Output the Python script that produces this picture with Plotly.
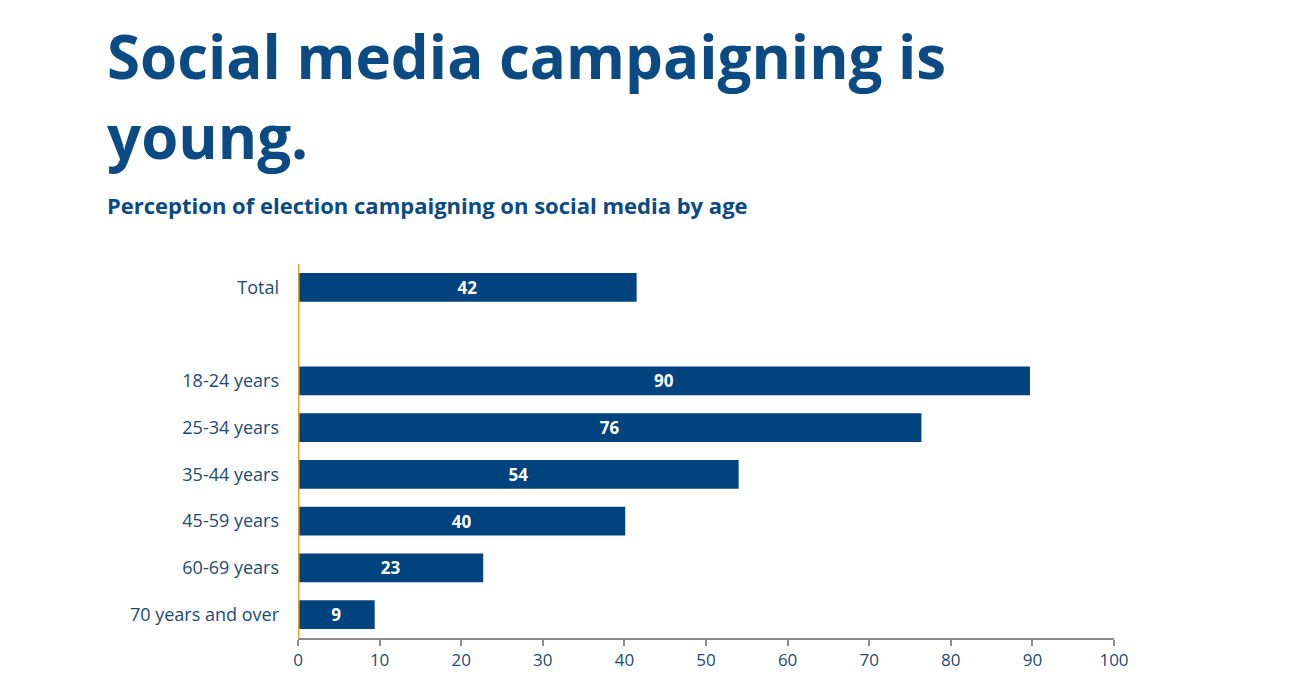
import plotly.graph_objects as go

# values
categories = ["Total", " ", "18-24 years", "25-34 years", "35-44 years",
              "45-59 years", "60-69 years", "70 years and over"]
shares = [41.5, None, 89.7, 76.4, 54.0, 40.1, 22.7, 9.4]
bar_labels = ["42", "", "90", "76", "54", "40", "23", "9"]
x_ticks = [0, 10, 20, 30, 40, 50, 60, 70, 80, 90, 100]

blue = "#00437f"
text_blue = "#1d4a75"
title_blue = "#0b4a82"

# plot area in pixels (page has an 8px body margin)
left, top, plot_h = 290, 256, 374

fig = go.Figure()

fig.add_trace(go.Bar(
    x=shares,
    y=categories,
    orientation="h",
    marker=dict(color=blue, line=dict(width=0)),
    text=bar_labels,
    textposition="inside",
    insidetextanchor="middle",
    textangle=0,
    constraintext="none",
    textfont=dict(family="Open Sans", size=17, color="white", weight="bold"),
    hoverinfo="skip",
))


def title_text(text, px_x, px_y, size):
    # place text by pixel position on the page
    return dict(
        text=text,
        xref="paper", yref="paper",
        x=(px_x - 8 - left) / 816, y=1.0 + (top - (px_y - 8)) / plot_h,
        xanchor="left", yanchor="top",
        align="left", showarrow=False,
        font=dict(family="Open Sans", size=size, color=title_blue, weight="bold"),
    )


fig.update_layout(
    width=1300,
    height=700,
    margin=dict(l=left, r=1300 - left - 816, t=top, b=700 - top - plot_h),
    paper_bgcolor="white",
    plot_bgcolor="white",
    bargap=0.38,
    showlegend=False,
    font=dict(family="Open Sans", color=text_blue),
    xaxis=dict(
        range=[0, 100],
        tickvals=x_ticks,
        showgrid=False,
        zeroline=False,
        showline=True,
        linecolor="#8c8c8c",
        linewidth=2,
        ticks="outside",
        ticklen=6,
        tickwidth=2,
        tickcolor="#8c8c8c",
        tickfont=dict(size=17, color=text_blue),
    ),
    yaxis=dict(
        categoryorder="array",
        categoryarray=categories,
        autorange="reversed",
        showgrid=False,
        zeroline=False,
        showline=False,
        ticks="",
        ticklabelstandoff=18,
        tickfont=dict(size=18, color=text_blue),
    ),
    shapes=[dict(
        type="line", xref="x", yref="paper",
        x0=0, x1=0, y0=0, y1=1,
        line=dict(color="#e9a227", width=3),
    )],
    annotations=[
        title_text("Social media campaigning is", 105, 13, 60),
        title_text("young.", 105, 93, 60),
        title_text("Perception of election campaigning on social media by age", 105, 188, 22),
    ],
)

fig.write_html("out.html")
